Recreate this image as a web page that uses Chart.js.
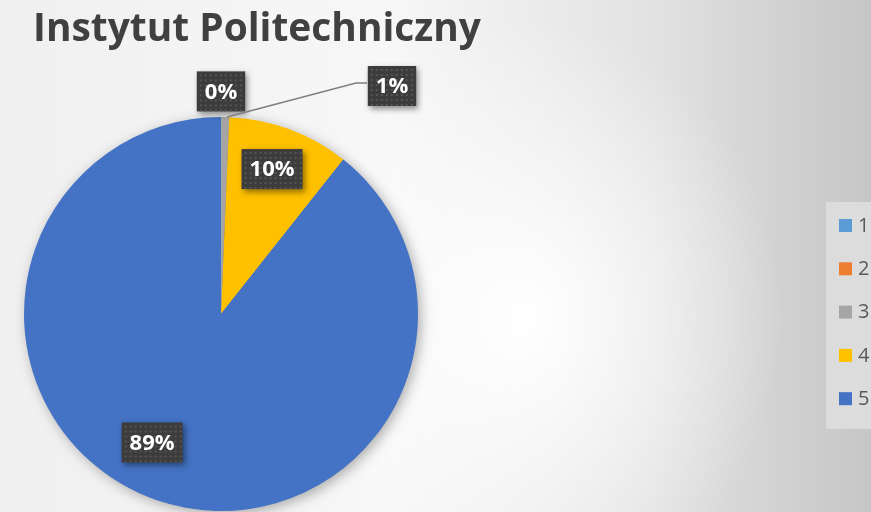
<!DOCTYPE html>
<html>
<head>
<meta charset="utf-8">
<script src="https://cdn.jsdelivr.net/npm/chart.js@4.4.1/dist/chart.umd.min.js"></script>
<style>
  html, body { margin: 0; padding: 0; }
  body {
    width: 871px; height: 512px; overflow: hidden;
    background:
      radial-gradient(ellipse 260px 300px at 60% 62%, rgba(255,255,255,1) 0%, rgba(255,255,255,0) 100%),
      linear-gradient(to right, #f0f0f0 0%, #f7f7f7 45%, #e2e2e2 75%, #c6c6c6 100%);
  }
  #wrap { position: relative; width: 871px; height: 512px; }
</style>
</head>
<body>
<div id="wrap"><canvas id="chart" width="871" height="512"></canvas></div>
<script>
const title = "Instytut Politechniczny";
const categories = ["1", "2", "3", "4", "5"];
const values = [0, 0, 1, 15, 134];
const colors = ["#5b9bd5", "#ed7d31", "#a5a5a5", "#ffc000", "#4472c4"];

// where each data label sits: radius factor + angle shift (deg), or null = hidden
const labelSpots = [
  { r: 1.13, da: 0 },
  null,
  { r: 1.0, da: 0, leader: true, lx: 392, ly: 86 },
  { r: 0.78, da: -1 },
  { r: 0.74, da: 9 }
];

const total = values.reduce((a, b) => a + b, 0);

function dotBox(ctx, x, y, w, h) {
  ctx.save();
  ctx.shadowColor = "rgba(0,0,0,0.45)";
  ctx.shadowBlur = 6;
  ctx.shadowOffsetX = 2;
  ctx.shadowOffsetY = 3;
  ctx.fillStyle = "#3c3c3c";
  ctx.fillRect(x, y, w, h);
  ctx.restore();
  ctx.fillStyle = "#555555";
  for (let yy = y + 3; yy < y + h - 1; yy += 5) {
    for (let xx = x + 3; xx < x + w - 1; xx += 5) {
      ctx.fillRect(xx, yy, 2, 2);
    }
  }
}

const extras = {
  id: "extras",
  beforeDatasetsDraw(chart) {
    const ctx = chart.ctx;
    const arc = chart.getDatasetMeta(0).data[0];
    ctx.save();
    ctx.shadowColor = "rgba(0,0,0,0.35)";
    ctx.shadowBlur = 14;
    ctx.shadowOffsetX = 3;
    ctx.shadowOffsetY = 3;
    ctx.fillStyle = "#4472c4";
    ctx.beginPath();
    ctx.arc(arc.x, arc.y, arc.outerRadius - 1, 0, Math.PI * 2);
    ctx.fill();
    ctx.restore();
  },
  afterDraw(chart) {
    const ctx = chart.ctx;
    const meta = chart.getDatasetMeta(0);

    // title
    ctx.save();
    ctx.font = "bold 39px 'Open Sans'";
    const tw = ctx.measureText(title).width;
    ctx.translate(33, 41);
    ctx.scale(448 / tw, 1);
    ctx.fillStyle = "#404040";
    ctx.fillText(title, 0, 0);
    ctx.restore();

    // data labels
    meta.data.forEach((el, i) => {
      const spot = labelSpots[i];
      if (!spot) return;
      const mid = (el.startAngle + el.endAngle) / 2 + spot.da * Math.PI / 180;
      let cx = el.x + Math.cos(mid) * el.outerRadius * spot.r;
      let cy = el.y + Math.sin(mid) * el.outerRadius * spot.r;
      const txt = Math.round(values[i] / total * 100) + "%";
      if (spot.leader) {
        const bx = spot.lx, by = spot.ly;
        ctx.save();
        ctx.strokeStyle = "#7f7f7f";
        ctx.lineWidth = 1.5;
        ctx.beginPath();
        ctx.moveTo(cx + 2, cy);
        ctx.lineTo(bx - 36, by - 3);
        ctx.lineTo(bx - 25, by - 3);
        ctx.stroke();
        ctx.restore();
        cx = bx; cy = by;
      }
      ctx.save();
      ctx.font = "bold 22px 'Open Sans'";
      const w = ctx.measureText(txt).width + 16;
      dotBox(ctx, cx - w / 2, cy - 20, w, 40);
      ctx.fillStyle = "#ffffff";
      ctx.textAlign = "center";
      ctx.textBaseline = "middle";
      ctx.fillText(txt, cx, cy + 1);
      ctx.restore();
    });

    // legend
    ctx.save();
    ctx.fillStyle = "#dcdcdc";
    ctx.fillRect(826, 202, 50, 227);
    ctx.font = "20px 'Open Sans'";
    ctx.textBaseline = "middle";
    categories.forEach((c, i) => {
      const y = 225 + i * 43.3;
      ctx.fillStyle = colors[i];
      ctx.fillRect(839, y - 6, 13, 13);
      ctx.fillStyle = "#595959";
      ctx.fillText(c, 858, y + 1);
    });
    ctx.restore();
  }
};

new Chart(document.getElementById("chart"), {
  type: "pie",
  data: {
    labels: categories,
    datasets: [{
      data: values,
      backgroundColor: colors,
      borderWidth: 0
    }]
  },
  options: {
    responsive: false,
    animation: false,
    layout: { padding: { left: 24, right: 453, top: 117, bottom: 1 } },
    plugins: {
      legend: { display: false },
      tooltip: { enabled: false }
    }
  },
  plugins: [extras]
});
</script>
</body>
</html>
